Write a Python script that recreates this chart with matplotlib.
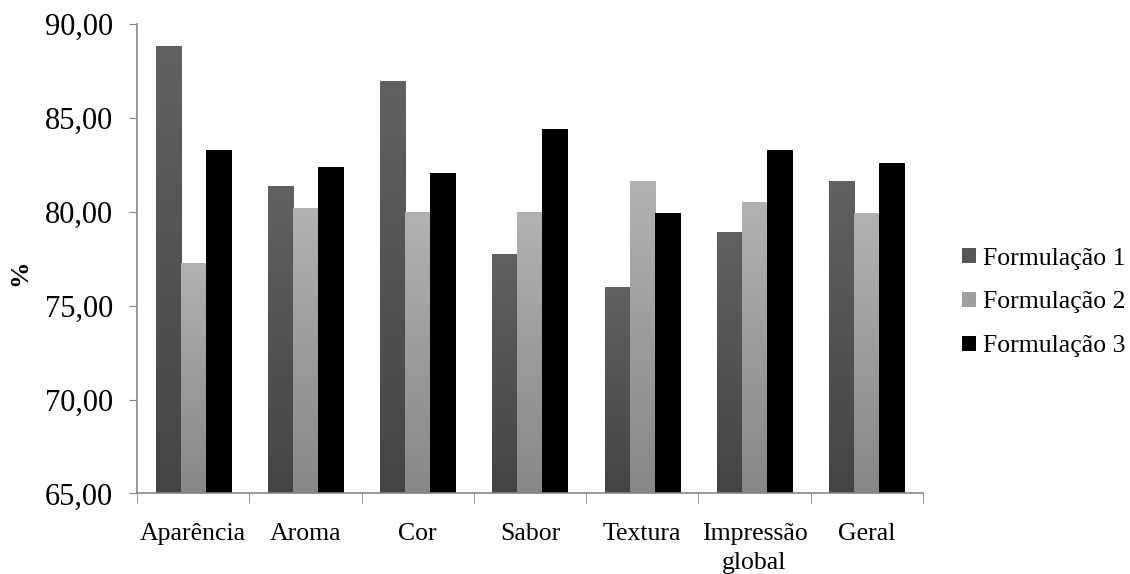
import numpy as np
import matplotlib
matplotlib.use('Agg')
import matplotlib.pyplot as plt
from matplotlib.colors import LinearSegmentedColormap
from matplotlib.patches import Patch

# === Data ===
categorias = ['Aparência', 'Aroma', 'Cor', 'Sabor', 'Textura', 'Impressão\nglobal', 'Geral']
formulacao_1 = [88.86, 81.35, 86.99, 77.75, 76.02, 78.90, 81.66]
formulacao_2 = [77.27, 80.20, 80.00, 80.00, 81.66, 80.52, 79.91]
formulacao_3 = [83.31, 82.39, 82.07, 84.43, 79.91, 83.29, 82.58]
series_names = ['Formulação 1', 'Formulação 2', 'Formulação 3']
yticks = [65, 70, 75, 80, 85, 90]

# top colour, bottom colour for each series
grad_colors = [('#616161', '#444444'), ('#b2b2b2', '#878787'), ('#000000', '#000000')]
legend_colors = ['#555555', '#9e9e9e', '#000000']

plt.rcParams['font.family'] = ['Liberation Serif', 'DejaVu Serif']

fig = plt.figure(figsize=(11.3, 5.74), dpi=100)
ax = fig.add_axes([0.1212, 0.1405, 0.6956, 0.8175])

width = 0.223
x = np.arange(len(categorias))
gradient = np.linspace(0, 1, 256).reshape(-1, 1)
for k, vals in enumerate([formulacao_1, formulacao_2, formulacao_3]):
    bars = ax.bar(x + (k - 1) * width, vals, width, bottom=0, color='none',
                  edgecolor='none', zorder=2)
    cmap = LinearSegmentedColormap.from_list('g%d' % k, [grad_colors[k][1], grad_colors[k][0]])
    for b in bars:
        x0 = b.get_x()
        x1 = x0 + b.get_width()
        im = ax.imshow(gradient, extent=[x0, x1, 65, b.get_height()], origin='lower',
                       aspect='auto', cmap=cmap, zorder=2, interpolation='bicubic')
        im.set_clip_path(b)

ax.set_xlim(-0.5, len(categorias) - 0.5)
ax.set_ylim(65, 90)
ax.set_yticks(yticks)
ax.set_yticklabels([('%.2f' % v).replace('.', ',') for v in yticks])
ax.set_xticks(x)
ax.set_xticklabels(categorias, fontsize=18.5, linespacing=1.45)
ax.set_xticks(np.arange(-0.5, len(categorias)), minor=True)
ax.tick_params(axis='x', which='major', length=0, pad=21)
ax.tick_params(axis='x', which='minor', length=7, color='#868686', direction='out')
ax.tick_params(axis='y', length=6, color='#868686', labelsize=22, pad=11)

for s in ['top', 'right']:
    ax.spines[s].set_visible(False)
for s in ['left', 'bottom']:
    ax.spines[s].set_color('#868686')
    ax.spines[s].set_linewidth(1.2)

ax.set_ylabel('%', fontsize=19, fontweight='bold')
ax.yaxis.set_label_coords(-0.135, 0.471)

handles = [Patch(facecolor=c, edgecolor='none') for c in legend_colors]
fig.legend(handles, series_names, loc='center left', bbox_to_anchor=(0.851, 0.473),
           frameon=False, fontsize=18.5, handlelength=0.55, handleheight=0.55,
           handletextpad=0.3, labelspacing=0.85, borderpad=0, borderaxespad=0)

fig.savefig('out.png', dpi=100)
